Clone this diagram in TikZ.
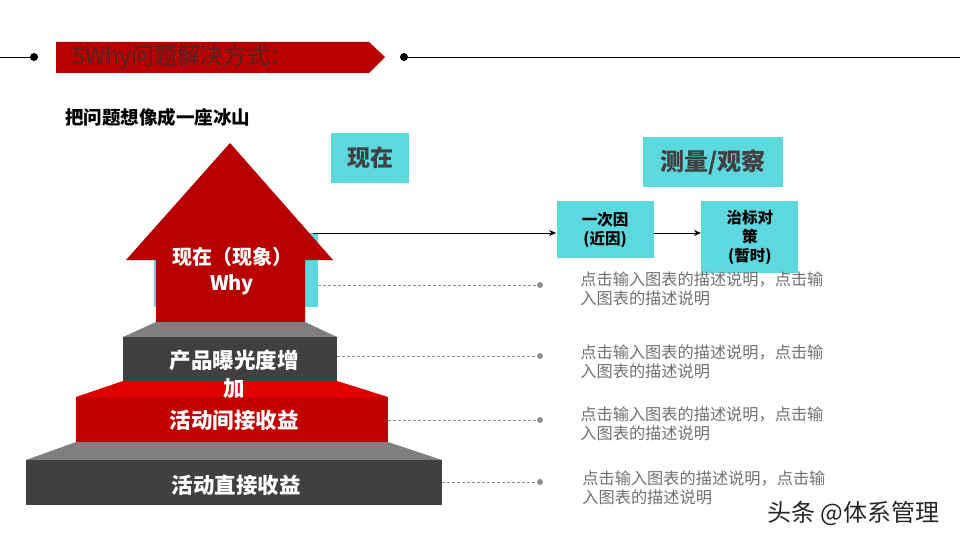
\documentclass[tikz,border=0pt]{standalone}
\usepackage{fontspec}
\setmainfont{Noto Sans CJK SC}
\usetikzlibrary{positioning,arrows.meta}
\definecolor{housered}{HTML}{B80000}
\definecolor{stepred}{HTML}{C20000}
\definecolor{brightred}{HTML}{E00000}
\definecolor{stepdark}{HTML}{404040}
\definecolor{stepgray}{HTML}{7F7F7F}
\definecolor{boxcyan}{HTML}{5CD8DE}
\definecolor{desc}{HTML}{707070}
\definecolor{bannertext}{HTML}{502424}

\begin{document}
\begin{tikzpicture}[x=1pt,y=-1pt, thick,
    dot/.style={circle,fill=black,inner sep=0pt,minimum size=8pt},
    gray dot/.style={circle,fill=desc!80,inner sep=0pt,minimum size=6pt},
    cyan box/.style={fill=boxcyan,inner sep=0pt,align=center,text=stepdark,font=\bfseries},
    step text/.style={text=white,font=\fontsize{21.5}{28}\selectfont\bfseries,align=center},
    desc text/.style={text=desc,anchor=north west,align=left,inner sep=0pt,
      font=\fontsize{16.2}{19}\selectfont},
    guide/.style={densely dashed,desc!80,line width=0.8pt},]

\useasboundingbox (0,0) rectangle (960,540);

% top rule and banner
\node[dot] (l) at (34,57) {};
\node[dot] (r) at (404,57) {};
\coordinate (l0) at (0,57);
\coordinate (r0) at (960,57);
\draw[line width=0.8pt] (l0) -- (l) (r) -- (r0);
\fill[housered] (56,42) -- (369,42) -- (385,57) -- (369,73) -- (56,73) -- cycle;
\node[anchor=west,inner sep=0pt,text=bannertext,font=\fontsize{23}{26}\selectfont] (title) at (72,57) {5Why问题解决方式：};

\node[anchor=west,inner sep=0pt,font=\fontsize{18.5}{20}\selectfont\bfseries] (sub) at (65,117) {把问题想像成一座冰山};

% iceberg
\fill[boxcyan] (154,233) rectangle (318,307);
\fill[housered] (230,143) -- (333,260) -- (305,260) -- (305,322) -- (156,322)
  -- (156,260) -- (126,260) -- cycle;
\fill[stepgray] (156,322) -- (305,322) -- (337,337) -- (123,337) -- cycle;
\fill[stepdark] (123,337) rectangle (337,381);
\fill[brightred] (123,381) -- (337,381) -- (388,397) -- (76,397) -- cycle;
\fill[stepred] (76,397) rectangle (388,442);
\fill[stepgray] (76,442) -- (388,442) -- (442,460) -- (26,460) -- cycle;
\fill[stepdark] (26,460) rectangle (442,505);

\node[step text,font=\fontsize{20}{26}\selectfont\bfseries] (now) at (232,271) {现在（现象）\\Why};
\node[step text] (s2) at (234,374) {产品曝光度增\\加};
\node[step text] (s3) at (234,420) {活动间接收益};
\node[step text] (s4) at (236,485) {活动直接收益};

% cyan boxes
\node[cyan box,minimum width=78pt,minimum height=49pt,font=\fontsize{23}{26}\selectfont\bfseries] (xz) at (370,158) {现在};
\node[cyan box,minimum width=140pt,minimum height=49pt,font=\fontsize{24}{26}\selectfont\bfseries] (cl) at (713,162) {测量/观察};
\node[cyan box,minimum width=97pt,minimum height=57pt,text=black,font=\fontsize{15.5}{19}\selectfont\bfseries] (c1) at (605,229.5) {一次因\\(近因)};
\node[cyan box,minimum width=97pt,minimum height=72pt,text=black,font=\fontsize{15.5}{19}\selectfont\bfseries] (c2) [right=47pt of c1.east,anchor=west,yshift=-7.5pt] {治标对\\策\\(暂时)};
\coordinate (h) at (313,233);

\path[line width=0.8pt,-{Stealth[length=7pt,width=6pt]}]
(h) edge (h -| c1.west)
(c1.east |- h) edge (h -| c2.west);

% descriptions
\node[gray dot] (d1) at (540,285) {};
\node[gray dot] (d2) at (540,356) {};
\node[gray dot] (d3) at (540,420) {};
\node[gray dot] (d4) at (540,482) {};
\coordinate (e1) at (318,285);
\coordinate (e2) at (337,356);
\coordinate (e3) at (388,420);
\coordinate (e4) at (442,482);
\draw[guide] (e1) -- (d1) (e2) -- (d2) (e3) -- (d3) (e4) -- (d4);

\node[desc text] (t1) at (580,271) {点击输入图表的描述说明，点击输\\入图表的描述说明};
\node[desc text] (t2) at (580,344) {点击输入图表的描述说明，点击输\\入图表的描述说明};
\node[desc text] (t3) at (580,406) {点击输入图表的描述说明，点击输\\入图表的描述说明};
\node[desc text] (t4) at (582,470) {点击输入图表的描述说明，点击输\\入图表的描述说明};

\node[anchor=west,inner sep=0pt,text=black!85,font=\fontsize{24}{26}\selectfont] (wm) at (767,513) {头条 @体系管理};

\end{tikzpicture}
\end{document}
